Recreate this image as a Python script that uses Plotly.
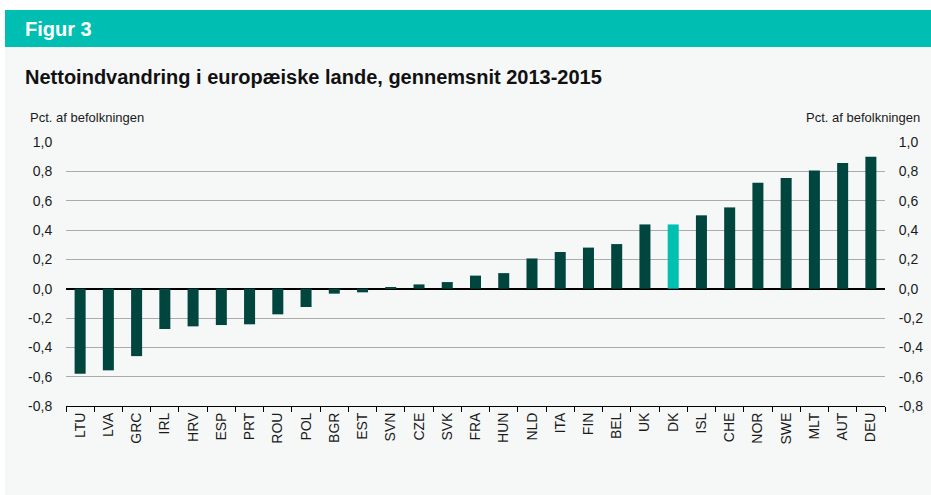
import plotly.graph_objects as go

countries = ["LTU", "LVA", "GRC", "IRL", "HRV", "ESP", "PRT", "ROU", "POL", "BGR",
             "EST", "SVN", "CZE", "SVK", "FRA", "HUN", "NLD", "ITA", "FIN", "BEL",
             "UK", "DK", "ISL", "CHE", "NOR", "SWE", "MLT", "AUT", "DEU"]
values = [-0.58, -0.557, -0.46, -0.275, -0.257, -0.248, -0.243, -0.175, -0.125, -0.034,
          -0.025, 0.008, 0.029, 0.045, 0.089, 0.106, 0.206, 0.25, 0.28, 0.304,
          0.438, 0.438, 0.50, 0.554, 0.722, 0.754, 0.806, 0.856, 0.90]
highlight = "DK"
y_ticks = [-0.8, -0.6, -0.4, -0.2, 0.0, 0.2, 0.4, 0.6, 0.8, 1.0]
y_tick_labels = ["-0,8", "-0,6", "-0,4", "-0,2", "0,0", "0,2", "0,4", "0,6", "0,8", "1,0"]

DARK = "#00463e"
TEAL = "#00c1b1"
HEADER = "#00bfb2"
PANEL = "#f6f8f8"
GRID = "#ababab"
FONT = "Liberation Sans, Arial, sans-serif"
TXT = "#1a1a1a"

colors = [TEAL if c == highlight else DARK for c in countries]

fig = go.Figure()
fig.add_trace(go.Bar(x=countries, y=values, marker=dict(color=colors, line=dict(width=0)),
                     showlegend=False, hoverinfo="x+y"))
fig.add_trace(go.Scatter(x=countries, y=values, yaxis="y2", mode="markers",
                         marker=dict(opacity=0, size=1), showlegend=False, hoverinfo="skip"))

L, R, T, B = 66, 885, 142, 406
W, H = 931, 495

def px(x):
    return (x - L) / (R - L)

def py(y):
    return (B - y) / (B - T)

shapes = [
    dict(type="rect", xref="paper", yref="paper", x0=px(5), x1=px(931), y0=py(495), y1=py(47),
         fillcolor=PANEL, line=dict(width=0), layer="below"),
    dict(type="rect", xref="paper", yref="paper", x0=px(5), x1=px(931), y0=py(47), y1=py(10),
         fillcolor=HEADER, line=dict(width=0), layer="below"),
]

annotations = [
    dict(text="<b>Figur 3</b>", xref="paper", yref="paper", x=px(23), y=py(29),
         xanchor="left", yanchor="middle", showarrow=False,
         font=dict(family=FONT, size=20, color="white")),
    dict(text="<b>Nettoindvandring i europæiske lande, gennemsnit 2013-2015</b>",
         xref="paper", yref="paper", x=px(23), y=py(77), xanchor="left", yanchor="middle",
         showarrow=False, font=dict(family=FONT, size=20, color="#111111")),
    dict(text="Pct. af befolkningen", xref="paper", yref="paper", x=px(28), y=py(117),
         xanchor="left", yanchor="middle", showarrow=False,
         font=dict(family=FONT, size=13, color=TXT)),
    dict(text="Pct. af befolkningen", xref="paper", yref="paper", x=px(922), y=py(117),
         xanchor="right", yanchor="middle", showarrow=False,
         font=dict(family=FONT, size=13, color=TXT)),
]

fig.update_layout(
    width=W, height=H,
    margin=dict(l=L, r=W - R, t=T, b=H - B, pad=0),
    paper_bgcolor="white",
    plot_bgcolor=PANEL,
    bargap=0.61,
    font=dict(family=FONT, size=14, color=TXT),
    shapes=shapes,
    annotations=annotations,
    xaxis=dict(type="category", range=[-0.5, len(countries) - 0.5],
               tickson="boundaries", ticks="outside", ticklen=5,
               tickcolor="#000000", showline=True, linecolor="#000000", linewidth=1,
               tickangle=-90, showgrid=False, tickfont=dict(size=14, color=TXT),
               fixedrange=True, automargin=False),
    yaxis=dict(range=[-0.8, 1.0], tickvals=y_ticks, ticktext=y_tick_labels,
               showgrid=True, gridcolor=GRID, gridwidth=1,
               zeroline=True, zerolinecolor="#000000", zerolinewidth=1.5,
               ticks="outside", ticklen=10, tickcolor="rgba(0,0,0,0)",
               tickfont=dict(size=14, color=TXT), showline=False, automargin=False,
               fixedrange=True),
    yaxis2=dict(range=[-0.8, 1.0], tickvals=y_ticks, ticktext=y_tick_labels, overlaying="y",
                side="right", showgrid=False, zeroline=False,
                ticks="outside", ticklen=10, tickcolor="rgba(0,0,0,0)",
                tickfont=dict(size=14, color=TXT), showline=False, automargin=False,
                fixedrange=True),
)

fig.write_html("out.html", config={"displayModeBar": False},
               post_script="document.body.style.margin='0';document.body.style.padding='0';")
